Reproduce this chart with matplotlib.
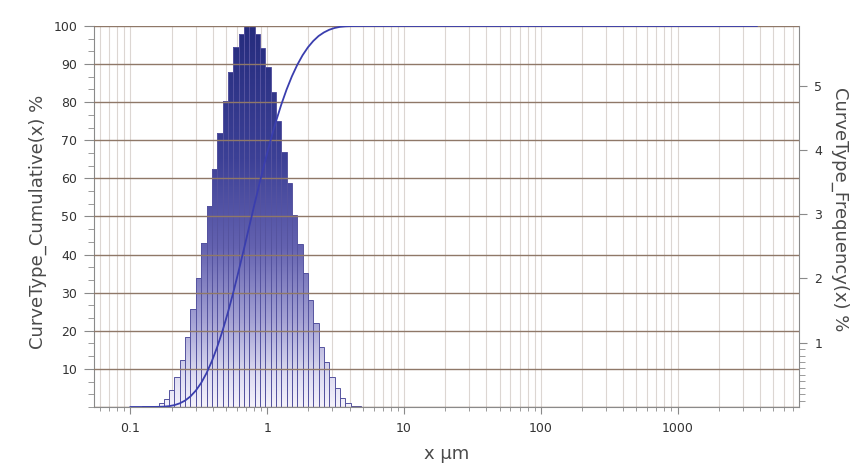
import numpy as np
import matplotlib
matplotlib.use('Agg')
import matplotlib.pyplot as plt
from matplotlib.ticker import FixedLocator, MultipleLocator, LogLocator, NullFormatter, FuncFormatter
from matplotlib.colors import LinearSegmentedColormap
from matplotlib.path import Path
from matplotlib.patches import PathPatch

# bin edges (um)
bin_edges = [0.1224, 0.1339, 0.1465, 0.1603, 0.1753, 0.1918, 0.2098, 0.2296, 0.2511, 0.2747,
             0.3006, 0.3288, 0.3597, 0.3935, 0.4305, 0.4710, 0.5152, 0.5637, 0.6166, 0.6746,
             0.7380, 0.8074, 0.8833, 0.9663, 1.0572, 1.1566, 1.2653, 1.3842, 1.5143, 1.6567,
             1.8124, 1.9828, 2.1692, 2.3731, 2.5962, 2.8402, 3.1072, 3.3993, 3.7189, 4.0685,
             4.4509, 4.8690]
# frequency per bin (%)
frequency = [0.01, 0.01, 0.02, 0.06, 0.13, 0.27, 0.47, 0.73, 1.09, 1.52,
             2.00, 2.56, 3.13, 3.70, 4.26, 4.76, 5.21, 5.60, 5.81, 5.93,
             5.93, 5.81, 5.58, 5.29, 4.90, 4.45, 3.97, 3.48, 2.99, 2.53,
             2.08, 1.66, 1.31, 0.94, 0.70, 0.47, 0.29, 0.14, 0.06, 0.02,
             0.01]
curve_start = 0.1
curve_end = 3800

x_ticks = [0.1, 1, 10, 100, 1000]
cum_ticks = [10, 20, 30, 40, 50, 60, 70, 80, 90, 100]
freq_ticks = [1, 2, 3, 4, 5]

edges = np.array(bin_edges)
freq = np.array(frequency)
cum = np.cumsum(freq) / freq.sum() * 100
cum_x = np.concatenate([[curve_start], edges, [curve_end]])
cum_y = np.concatenate([[0, 0], cum, [100]])

fig = plt.figure(figsize=(8.67, 4.69), dpi=100)
ax = fig.add_axes([0.1084, 0.1322, 0.8132, 0.8124])
ax2 = ax.twinx()
ax3 = ax.twinx()

ax.set_xscale('log')
ax.set_xlim(0.0541, 7730)
ax.set_ylim(0, 100)
ax2.set_ylim(0, 5.93)
ax3.set_ylim(0, 100)

# vertical log grid (under the bars)
ax.grid(True, axis='x', which='both', color='#dcd6d2', lw=0.8)
ax.set_axisbelow(True)

# bars with vertical gradient
ax2.set_autoscale_on(False)
bars = ax2.bar(edges[:-1], freq, width=np.diff(edges), align='edge',
               facecolor='none', edgecolor='#55539f', lw=0.7, zorder=3)
paths = [b.get_path().transformed(b.get_patch_transform()) for b in bars]
clip = PathPatch(Path.make_compound_path(*paths), transform=ax2.transData,
                 facecolor='none', edgecolor='none')
cmap = LinearSegmentedColormap.from_list('grad', [
    (0.0, '#f4f2fb'), (0.08, '#dedcf1'), (0.22, '#a6a4d5'),
    (0.42, '#6462b0'), (0.65, '#3c4096'), (1.0, '#252c7d')])
grad = np.linspace(0, 1, 256).reshape(-1, 1)
im = ax2.imshow(grad, extent=[0, 1, 0, 1], transform=ax2.transAxes, aspect='auto',
                origin='lower', cmap=cmap, zorder=2, interpolation='bilinear')
im.set_clip_path(clip)

# horizontal grid + cumulative curve on top
ax3.yaxis.set_major_locator(MultipleLocator(10))
ax3.grid(True, axis='y', color='#8f7868', lw=1.0)
ax3.tick_params(axis='y', length=0, labelright=False)
ax3.plot(cum_x, cum_y, color='#3a3eae', lw=1.3)

# axes styling
for a in (ax, ax2, ax3):
    for s in a.spines.values():
        s.set_visible(False)
for side in ('left', 'bottom'):
    ax.spines[side].set_visible(True)
    ax.spines[side].set_color('#8a8a8a')
ax2.spines['right'].set_visible(True)
ax2.spines['right'].set_color('#8a8a8a')

ax.xaxis.set_major_locator(FixedLocator(x_ticks))
ax.xaxis.set_major_formatter(FuncFormatter(lambda v, p: f'{v:g}'))
ax.xaxis.set_minor_locator(LogLocator(base=10, subs=np.arange(2, 10), numticks=20))
ax.xaxis.set_minor_formatter(NullFormatter())
ax.tick_params(axis='x', which='major', length=5, width=0.8, color='#8a8a8a',
               labelsize=9, labelcolor='#333333', pad=6)
ax.tick_params(axis='x', which='minor', length=3, width=0.6, color='#8a8a8a')

ax.yaxis.set_major_locator(FixedLocator(cum_ticks))
ax.yaxis.set_minor_locator(MultipleLocator(10 / 3))
ax.tick_params(axis='y', which='major', length=7, width=0.8, color='#8a8a8a',
               labelsize=9, labelcolor='#333333', pad=5)
ax.tick_params(axis='y', which='minor', length=4, width=0.6, color='#8a8a8a')

ax2.yaxis.set_major_locator(FixedLocator(freq_ticks))
ax2.yaxis.set_minor_locator(FixedLocator([0.1, 0.2, 0.3, 0.4, 0.5, 0.6, 0.7, 0.8, 0.9]))
ax2.tick_params(axis='y', which='major', length=6, width=0.8, color='#8a8a8a',
                labelsize=9, labelcolor='#333333', pad=5)
ax2.tick_params(axis='y', which='minor', length=4, width=0.6, color='#8a8a8a')

ax.set_xlabel('x µm', fontsize=13, color='#4a4a4a')
ax.xaxis.set_label_coords(0.5, -0.10)
ax.set_ylabel('CurveType_Cumulative(x) %', fontsize=13, color='#4a4a4a')
ax.yaxis.set_label_coords(-0.0667, 0.487)
ax2.set_ylabel('CurveType_Frequency(x) %', fontsize=13, color='#4a4a4a',
               rotation=270, va='bottom')
ax2.yaxis.set_label_coords(1.045, 0.518)
ax2.yaxis.label.set_va('bottom')

fig.savefig('out.png', dpi=100, facecolor='white')
